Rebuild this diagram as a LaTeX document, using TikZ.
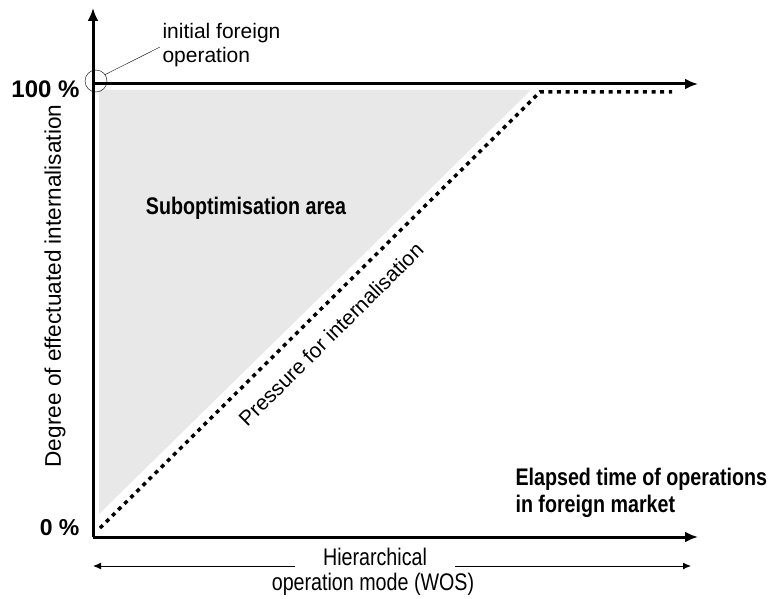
\documentclass[tikz,border=0pt]{standalone}
\usepackage{fontspec}
\setmainfont{Liberation Sans}
\newfontfamily\narrowfont[FakeStretch=0.82]{Liberation Sans}
\usetikzlibrary{calc,positioning,arrows.meta}
\definecolor{areagray}{RGB}{232,232,232}

\begin{document}
\begin{tikzpicture}[x=1pt,y=-1pt,
    lab/.style={font=\fontsize{21}{24.5}\selectfont},
    nlab/.style={font=\narrowfont\fontsize{24}{27}\selectfont},
    nblab/.style={font=\narrowfont\fontsize{24}{27}\selectfont\bfseries},
    blab/.style={font=\fontsize{24}{27}\selectfont\bfseries},
    axis/.style={line width=3pt,-{Latex[length=13pt,width=11pt]}},
    thinarr/.style={line width=1pt,{Latex[length=8pt,width=7pt]}-{Latex[length=8pt,width=7pt]}}]
    \useasboundingbox (0,0) rectangle (773,599);
    \coordinate (O) at (93,537);
    \coordinate (Ytop) at (93,8);
    \coordinate (Xend) at (698,537);
    \coordinate (C) at (93,84);
    \coordinate (Cend) at (698,84);
    \coordinate (P0) at (100,528);
    \coordinate (P1) at (540,92);
    \coordinate (P2) at (672,92);

    % suboptimisation area
    \fill[areagray] (99,90) -- (531,90) -- (99,514) -- cycle;

    \draw[axis] (O) -- (Ytop);
    \draw[axis] (O) -- (Xend);
    \draw[axis] (C) -- (Cend);

    \draw[line width=3.5pt,dash pattern=on 4pt off 4.6pt] (P0) -- (P1)
      node[lab,sloped,pos=0.485,below=12pt] (press) {Pressure for internalisation}
      -- (P2);

    % initial foreign operation
    \node[circle,draw,thin,minimum size=22pt,inner sep=0pt] (init) at (96,81) {};
    \coordinate (Lend) at (160,47);
    \draw[thin] (init.35) -- (Lend);
    \node[lab,anchor=west,align=left] (initlab) at (159,45) {initial foreign\\operation};

    \node[blab,anchor=east] (hundred) at (83,89) {100 \%};
    \node[blab,font=\fontsize{23}{27}\selectfont\bfseries,anchor=east] (zero) at (83,528) {0 \%};
    \node[lab,font=\fontsize{22.6}{27}\selectfont,rotate=90] (ylab) at (55,286) {Degree of effectuated internalisation};
    \node[nblab] (subopt) at (246,208) {Suboptimisation area};
    \node[nblab,anchor=west,align=left] (elapsed) at (512,493) {Elapsed time of operations\\in foreign market};

    % hierarchical mode
    \coordinate (HL) at (93,566);
    \coordinate (HR) at (691,566);
    \draw[thinarr] (HL) -- (HR);
    \node[nlab,fill=white,minimum width=160pt,inner ysep=1pt] (hier) at (375,557) {Hierarchical};
    \node[nlab] (wos) at (373,584) {operation mode (WOS)};
\end{tikzpicture}
\end{document}
